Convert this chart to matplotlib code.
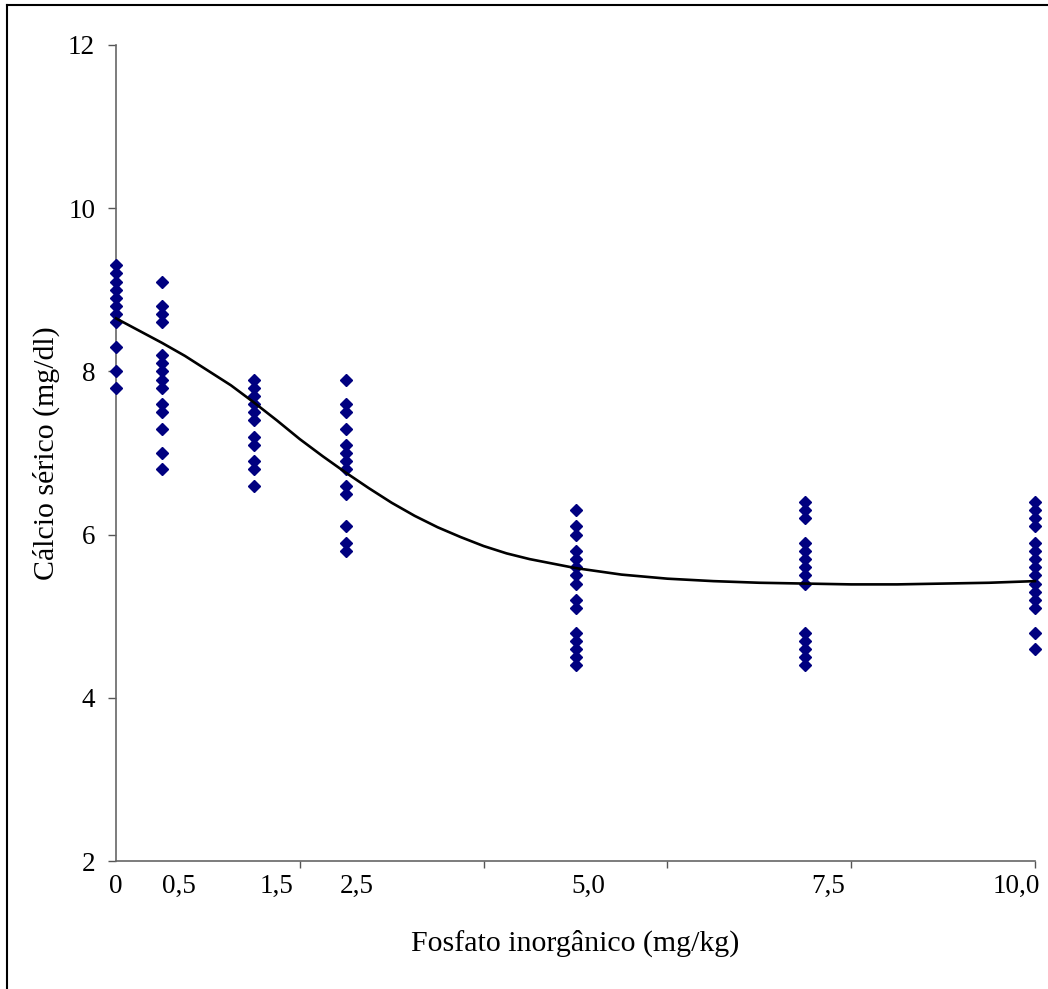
import matplotlib
matplotlib.use("Agg")
import matplotlib.pyplot as plt
from matplotlib.lines import Line2D

plt.rcParams["font.family"] = ["Liberation Serif", "DejaVu Serif"]

# dose groups (mg/kg) and serum calcium readings (mg/dl)
doses = [0, 0.5, 1.5, 2.5, 5.0, 7.5, 10.0]
calcium = [
    [9.3, 9.2, 9.1, 9.0, 8.9, 8.8, 8.7, 8.6, 8.3, 8.0, 7.8],
    [9.1, 8.8, 8.7, 8.6, 8.2, 8.1, 8.0, 7.9, 7.8, 7.6, 7.5, 7.3, 7.0, 6.8],
    [7.9, 7.8, 7.7, 7.6, 7.5, 7.4, 7.2, 7.1, 6.9, 6.8, 6.6],
    [7.9, 7.6, 7.5, 7.3, 7.1, 7.0, 6.9, 6.8, 6.6, 6.5, 6.1, 5.9, 5.8],
    [6.3, 6.1, 6.0, 5.8, 5.7, 5.6, 5.5, 5.4, 5.2, 5.1, 4.8, 4.7, 4.6, 4.5, 4.4],
    [6.4, 6.3, 6.2, 5.9, 5.8, 5.7, 5.6, 5.5, 5.4, 4.8, 4.7, 4.6, 4.5, 4.4],
    [6.4, 6.3, 6.2, 6.1, 5.9, 5.8, 5.7, 5.6, 5.5, 5.4, 5.3, 5.2, 5.1, 4.8, 4.6],
]

# trend curve
curve_x = [0, 0.25, 0.5, 0.75, 1.0, 1.25, 1.5, 1.75, 2.0, 2.25, 2.5, 2.75, 3.0,
           3.25, 3.5, 3.75, 4.0, 4.25, 4.5, 5.0, 5.5, 6.0, 6.5, 7.0, 7.5, 8.0,
           8.5, 9.0, 9.5, 10.0]
curve_y = [8.65, 8.50, 8.35, 8.19, 8.01, 7.83, 7.62, 7.40, 7.17, 6.96, 6.76,
           6.57, 6.39, 6.23, 6.09, 5.97, 5.86, 5.77, 5.70, 5.59, 5.51, 5.46,
           5.43, 5.41, 5.40, 5.39, 5.39, 5.40, 5.41, 5.43]

# x labels as they sit under the axis
xlabel_pos = [0, 0.68, 1.75, 2.62, 5.14, 7.75, 9.8]
xlabel_txt = ["0", "0,5", "1,5", "2,5", "5,0", "7,5", "10,0"]

fig = plt.figure(figsize=(10.48, 9.89), dpi=100)
ax = fig.add_axes([0.1107, 0.1294, 0.8769, 0.8251])

for d, vals in zip(doses, calcium):
    ax.plot([d] * len(vals), vals, linestyle="none", marker="D",
            markersize=6.6, color="#000080", clip_on=False, zorder=3)

ax.plot(curve_x, curve_y, color="black", linewidth=1.9, zorder=4, clip_on=False)

ax.set_xlim(0, 10)
ax.set_ylim(2, 12)
ax.set_yticks([2, 4, 6, 8, 10, 12])

ax.set_xticks(xlabel_pos)
ax.set_xticklabels(xlabel_txt)
ax.set_xticks([0, 2, 4, 6, 8, 10], minor=True)
ax.tick_params(axis="x", which="major", length=0, pad=9, labelsize=19.5)
ax.tick_params(axis="x", which="minor", length=5, width=1, color="#555555",
               direction="out")
ax.tick_params(axis="y", length=6, width=1, color="#555555", direction="out",
               pad=9, labelsize=19.5)

for side in ["top", "right"]:
    ax.spines[side].set_visible(False)
for side in ["left", "bottom"]:
    ax.spines[side].set_color("#666666")
    ax.spines[side].set_linewidth(1.2)

ax.set_xlabel("Fosfato inorgânico (mg/kg)", fontsize=21.5)
ax.set_ylabel("Cálcio sérico (mg/dl)", fontsize=21.5)
ax.xaxis.set_label_coords(0.5, -0.084)
ax.yaxis.set_label_coords(-0.061, 0.5)

# outer frame (left and top edges visible)
fig.add_artist(Line2D([7 / 1048, 7 / 1048], [0, 1 - 5 / 989],
                      transform=fig.transFigure, color="black", linewidth=1.5))
fig.add_artist(Line2D([7 / 1048, 1], [1 - 5 / 989, 1 - 5 / 989],
                      transform=fig.transFigure, color="black", linewidth=1.5))

fig.savefig("out.png", dpi=100)
